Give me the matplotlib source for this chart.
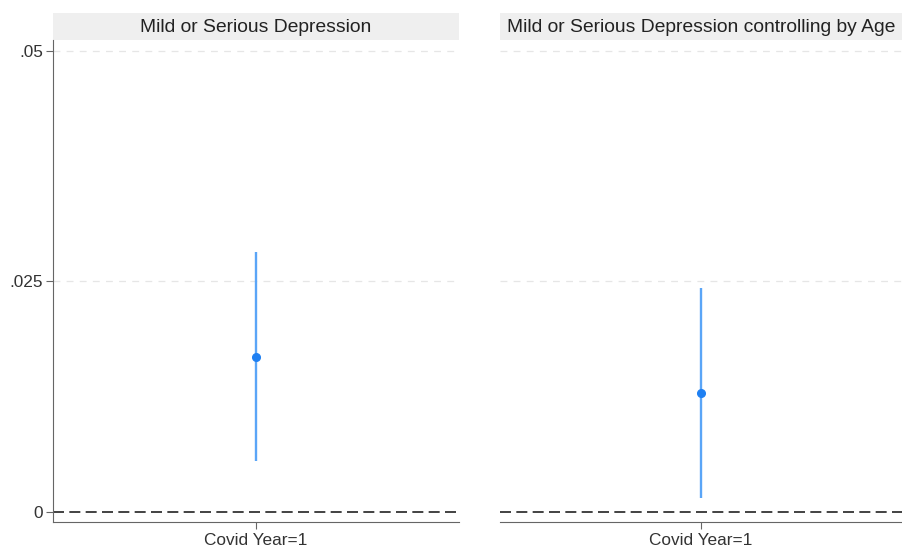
import matplotlib.pyplot as plt
from matplotlib.patches import Rectangle

plt.rcParams['font.family'] = ['Liberation Sans', 'DejaVu Sans']

titles = ['Mild or Serious Depression', 'Mild or Serious Depression controlling by Age']
xlabels = ['Covid Year=1']
coef = [0.01681, 0.01291]
ci_low = [0.00553, 0.00152]
ci_high = [0.0282, 0.02423]
yticks = [0, 0.025, 0.05]
yticklabels = ['0', '.025', '.05']

fig = plt.figure(figsize=(9.02, 5.5), dpi=100)
ax1 = fig.add_axes([0.0588, 0.0515, 0.450, 0.876])
ax2 = fig.add_axes([0.5543, 0.0515, 0.4457, 0.876], sharey=ax1)

strip_h = 27 / (0.876 * 550)

for i, ax in enumerate([ax1, ax2]):
    ax.set_xlim(0, 2)
    ax.set_ylim(-0.00108, 0.05116)
    for y in yticks[1:]:
        ax.axhline(y, color='#e6e6e6', lw=0.9, ls=(0, (5.5, 5)), zorder=0)
    ax.axhline(0, color='#222222', lw=1.2, ls=(0, (6.6, 3.2)), zorder=1)
    ax.vlines(1, ci_low[i], ci_high[i], color='#5aa5f7', lw=1.7, zorder=2)
    ax.plot(1, coef[i], 'o', color='#1f80f2', ms=5.5, zorder=3)
    ax.set_xticks([1])
    ax.set_xticklabels(xlabels, fontsize=12.4, color='#333333')
    for s in ['top', 'right']:
        ax.spines[s].set_visible(False)
    ax.spines['bottom'].set_color('#666666')
    ax.spines['left'].set_color('#666666')
    ax.tick_params(axis='x', length=5, color='#666666', pad=3)
    # gray strip with panel title
    ax.add_patch(Rectangle((0, 1.0), 1, strip_h, transform=ax.transAxes,
                           facecolor='#efefef', edgecolor='none', clip_on=False))
    ax.text(0.5, 1.0 + strip_h / 2 + 0.001, titles[i], transform=ax.transAxes,
            ha='center', va='center_baseline', fontsize=13.9, color='#222222')

ax1.set_yticks(yticks)
ax1.set_yticklabels(yticklabels, fontsize=12.4, color='#333333')
ax1.tick_params(axis='y', length=5, color='#666666', pad=2)
ax2.spines['left'].set_visible(False)
ax2.tick_params(axis='y', left=False, labelleft=False)

fig.savefig('out.png', dpi=100, facecolor='white')
